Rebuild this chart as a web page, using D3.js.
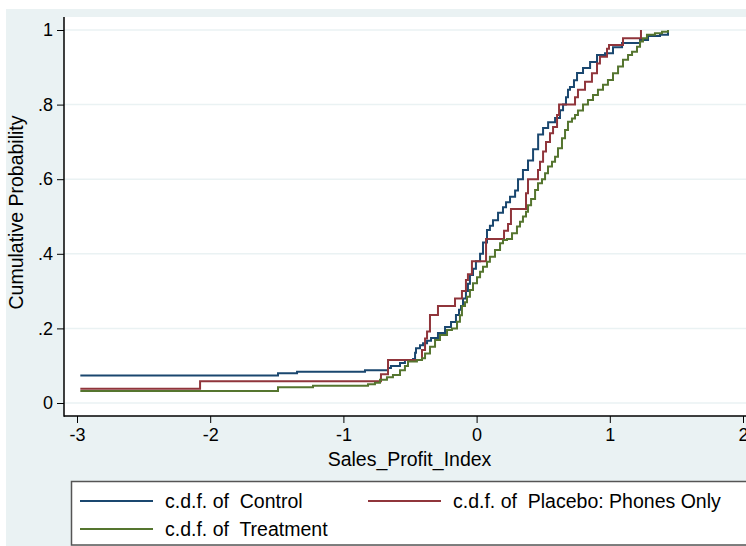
<!DOCTYPE html>
<html>
<head>
<meta charset="utf-8">
<script src="https://cdn.jsdelivr.net/npm/d3@7"></script>
<style>
html,body{margin:0;padding:0;background:#fff;}
svg{display:block;font-family:"Liberation Sans",Arial,Helvetica,sans-serif;}
</style>
</head>
<body>
<svg id="chart" width="746" height="546"></svg>
<script>
// ---- data ----
const xTicks = [-3, -2, -1, 0, 1, 2];
const xTickLabels = ["-3", "-2", "-1", "0", "1", "2"];
const yTicks = [0, 0.2, 0.4, 0.6, 0.8, 1];
const yTickLabels = ["0", ".2", ".4", ".6", ".8", "1"];
const seriesNames = ["c.d.f. of  Control", "c.d.f. of  Placebo: Phones Only", "c.d.f. of  Treatment"];

const controlX = [-2.975,-1.491,-1.348,-0.838,-0.665,-0.643,-0.575,-0.538,-0.477,-0.462,-0.455,-0.425,-0.402,-0.372,-0.342,-0.290,-0.237,-0.192,-0.155,-0.132,-0.117,-0.102,-0.080,-0.065,-0.050,-0.027,-0.005,0.026,0.048,0.078,0.100,0.123,0.161,0.198,0.221,0.251,0.289,0.311,0.348,0.386,0.424,0.462,0.499,0.537,0.589,0.626,0.649,0.671,0.686,0.701,0.731,0.754,0.799,0.852,0.904,0.964,1.024,1.092,1.227,1.287,1.377,1.437];
const controlY = [0.074,0.080,0.084,0.088,0.094,0.099,0.107,0.115,0.118,0.135,0.147,0.155,0.160,0.167,0.174,0.188,0.204,0.217,0.236,0.250,0.260,0.280,0.300,0.320,0.343,0.360,0.380,0.400,0.430,0.464,0.475,0.490,0.510,0.525,0.538,0.553,0.570,0.600,0.625,0.650,0.680,0.720,0.737,0.753,0.764,0.785,0.800,0.820,0.840,0.847,0.865,0.885,0.898,0.914,0.933,0.938,0.954,0.965,0.973,0.984,0.987,1.000];

const placeboX = [-2.975,-2.076,-0.718,-0.665,-0.410,-0.387,-0.372,-0.350,-0.290,-0.162,-0.110,-0.080,-0.065,-0.035,0.071,0.206,0.236,0.258,0.371,0.386,0.461,0.476,0.499,0.521,0.551,0.574,0.604,0.619,0.739,0.761,0.814,0.866,0.904,0.926,0.979,0.994,1.099,1.234];
const placeboY = [0.0385,0.058,0.077,0.115,0.142,0.173,0.192,0.236,0.260,0.280,0.300,0.330,0.345,0.380,0.440,0.462,0.480,0.520,0.562,0.600,0.625,0.647,0.674,0.700,0.723,0.740,0.772,0.800,0.820,0.840,0.861,0.884,0.910,0.928,0.950,0.960,0.978,1.000];

const treatmentX = [-2.975,-1.491,-1.228,-0.815,-0.763,-0.725,-0.673,-0.628,-0.575,-0.538,-0.515,-0.448,-0.410,-0.387,-0.350,-0.312,-0.275,-0.222,-0.185,-0.147,-0.125,-0.110,-0.087,-0.072,-0.050,-0.027,0.003,0.026,0.048,0.078,0.100,0.138,0.176,0.198,0.228,0.266,0.303,0.326,0.348,0.371,0.386,0.409,0.439,0.461,0.491,0.514,0.536,0.566,0.589,0.611,0.641,0.664,0.686,0.716,0.739,0.761,0.799,0.836,0.874,0.911,0.949,0.986,1.024,1.062,1.099,1.137,1.167,1.204,1.227,1.249,1.279,1.339,1.392,1.437];
const treatmentY = [0.032,0.042,0.046,0.050,0.054,0.062,0.069,0.075,0.088,0.099,0.111,0.115,0.120,0.133,0.151,0.169,0.182,0.196,0.200,0.218,0.235,0.260,0.270,0.285,0.303,0.321,0.337,0.352,0.365,0.379,0.392,0.410,0.428,0.437,0.440,0.455,0.473,0.486,0.500,0.513,0.530,0.547,0.571,0.589,0.600,0.616,0.634,0.647,0.660,0.683,0.710,0.732,0.754,0.763,0.772,0.784,0.800,0.812,0.826,0.840,0.853,0.866,0.884,0.902,0.920,0.933,0.942,0.955,0.969,0.978,0.987,0.991,0.995,1.000];

const seriesColors = ["#1a476f", "#90353b", "#55752f"];

// ---- drawing ----
const svg = d3.select("#chart");
const W = 746, H = 546;
const plotLeft = 64, plotTop = 17, plotBottom = 416;

const x = d3.scaleLinear().domain([-3, 2]).range([77, 743]);
const y = d3.scaleLinear().domain([0, 1]).range([403, 30]);

svg.append("rect").attr("x", 0).attr("y", 0).attr("width", W).attr("height", H).attr("fill", "#ffffff");
svg.append("rect").attr("x", 6).attr("y", 9).attr("width", W).attr("height", H).attr("fill", "#eaf2f3");
svg.append("rect").attr("x", plotLeft).attr("y", plotTop).attr("width", W).attr("height", plotBottom - plotTop).attr("fill", "#ffffff");

// gridlines
svg.append("g").selectAll("line").data(yTicks).join("line")
  .attr("x1", plotLeft).attr("x2", W)
  .attr("y1", d => y(d)).attr("y2", d => y(d))
  .attr("stroke", "#eaf2f3").attr("stroke-width", 1.5);

// lines
const series = [
  {xs: controlX, ys: controlY, color: seriesColors[0]},
  {xs: placeboX, ys: placeboY, color: seriesColors[1]},
  {xs: treatmentX, ys: treatmentY, color: seriesColors[2]}
];
const line = d3.line().x(d => x(d[0])).y(d => y(d[1])).curve(d3.curveStepAfter);
// draw treatment first, then placebo, then control on top? keep order like Stata: control, placebo, treatment
series.forEach(s => {
  const pts = s.xs.map((v, i) => [v, s.ys[i]]);
  svg.append("path").attr("d", line(pts)).attr("fill", "none")
    .attr("stroke", s.color).attr("stroke-width", 2).attr("stroke-linejoin", "miter");
});

// axes
const yAxis = d3.axisLeft(y).tickValues(yTicks).tickFormat((d, i) => yTickLabels[i]).tickSize(7).tickPadding(4);
const gy = svg.append("g").attr("transform", `translate(${plotLeft},0)`).call(yAxis);
gy.select(".domain").remove();
gy.append("line").attr("x1", 0).attr("x2", 0).attr("y1", plotTop).attr("y2", plotBottom + 0.75)
  .attr("stroke", "#000").attr("stroke-width", 1.5);
gy.selectAll(".tick line").attr("stroke", "#000").attr("stroke-width", 1);
gy.selectAll(".tick text").attr("font-size", 18).attr("fill", "#000")
  .attr("font-family", "Liberation Sans, Arial, sans-serif");

const xAxis = d3.axisBottom(x).tickValues(xTicks).tickFormat((d, i) => xTickLabels[i]).tickSize(7).tickPadding(5);
const gx = svg.append("g").attr("transform", `translate(0,${plotBottom})`).call(xAxis);
gx.select(".domain").remove();
gx.append("line").attr("x1", plotLeft).attr("x2", W).attr("y1", 0).attr("y2", 0)
  .attr("stroke", "#000").attr("stroke-width", 1.5);
gx.selectAll(".tick line").attr("stroke", "#000").attr("stroke-width", 1);
gx.selectAll(".tick text").attr("font-size", 18).attr("fill", "#000")
  .attr("font-family", "Liberation Sans, Arial, sans-serif");

// axis titles
svg.append("text").attr("x", 409.5).attr("y", 466).attr("text-anchor", "middle")
  .attr("font-size", 19.5).attr("fill", "#000").text("Sales_Profit_Index");
svg.append("text").attr("transform", "translate(23,212.5) rotate(-90)").attr("text-anchor", "middle")
  .attr("font-size", 19.5).attr("fill", "#000").text("Cumulative Probability");

// legend
svg.append("rect").attr("x", 71.5).attr("y", 481.5).attr("width", 700).attr("height", 63.5)
  .attr("fill", "#ffffff").attr("stroke", "#555555").attr("stroke-width", 1.5);
const legendItems = [
  {name: seriesNames[0], color: seriesColors[0], lx: 80, ly: 501},
  {name: seriesNames[1], color: seriesColors[1], lx: 368, ly: 501},
  {name: seriesNames[2], color: seriesColors[2], lx: 80, ly: 529}
];
legendItems.forEach(it => {
  svg.append("line").attr("x1", it.lx).attr("x2", it.lx + 73).attr("y1", it.ly).attr("y2", it.ly)
    .attr("stroke", it.color).attr("stroke-width", 2);
  svg.append("text").attr("x", it.lx + 85).attr("y", it.ly + 7).attr("font-size", 19.5)
    .attr("fill", "#000").style("white-space", "pre").attr("xml:space", "preserve").text(it.name);
});
</script>
</body>
</html>
